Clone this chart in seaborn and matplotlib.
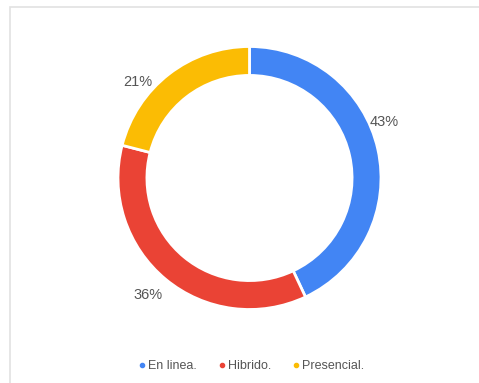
import numpy as np
import matplotlib
matplotlib.use("Agg")
import matplotlib.pyplot as plt
from matplotlib.lines import Line2D
from matplotlib.patches import Rectangle
import seaborn as sns

# Data
categories = ["En linea.", "Hibrido.", "Presencial."]
shares = [43, 36, 21]
colors = ["#4285F4", "#EA4335", "#FBBC04"]

sns.set_theme(style="white")
plt.rcParams["font.family"] = ["Liberation Sans", "DejaVu Sans"]

W, H = 479, 383
fig = plt.figure(figsize=(W / 100, H / 100), dpi=100)
fig.patch.set_facecolor("white")
ax = fig.add_axes([0, 0, 1, 1])
ax.set_xlim(0, W)
ax.set_ylim(0, H)
ax.axis("off")

# card outline
ax.add_patch(Rectangle((10, -5), W, H - 7 + 5, fill=False,
                       edgecolor="#e2e2e2", linewidth=1.2))

cx, cy, R = 249.5, H - 178, 131.5
ring = 0.22
wedges, _ = ax.pie(shares, colors=colors, startangle=90, counterclock=False,
                   center=(cx, cy), radius=R, frame=True,
                   wedgeprops=dict(width=R * ring, edgecolor="white", linewidth=2))
ax.set_xlim(0, W)
ax.set_ylim(0, H)
ax.axis("off")

# percentage labels just outside the ring
nudges = [10, -1.5, 11.5]
dists = [146, 155, 147]
for w, v, nd, d in zip(wedges, shares, nudges, dists):
    mid = np.deg2rad((w.theta1 + w.theta2) / 2 + nd)
    ax.text(cx + d * np.cos(mid), cy + d * np.sin(mid), f"{v}%",
            ha="center", va="center", fontsize=10.5, color="#555555")

handles = [Line2D([], [], marker="o", linestyle="", markersize=3,
                  markerfacecolor=c, markeredgecolor=c) for c in colors]
fig.legend(handles, categories, loc="center", bbox_to_anchor=(0.523, 1 - 366 / H),
           ncol=3, frameon=False, fontsize=9, handletextpad=0.1,
           columnspacing=1.6, handlelength=0.8, labelcolor="#555555")

fig.savefig("out.png", dpi=100, facecolor="white")
